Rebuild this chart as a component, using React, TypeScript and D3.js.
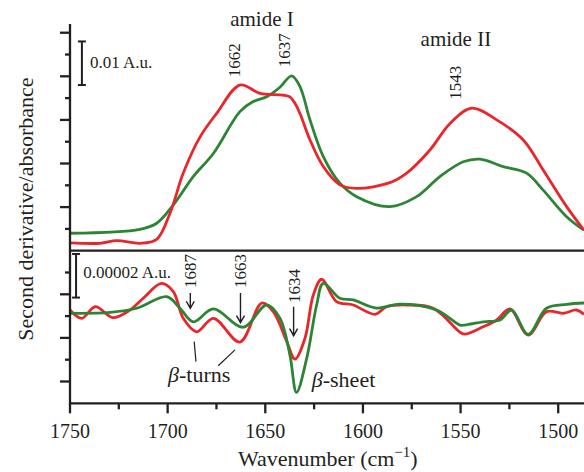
import React from "react";
import * as d3 from "d3";

// absorbance spectra (top panel), values in mA.u.
const absWave = [1750, 1734.6, 1726.1, 1714.2, 1705.6, 1698.8, 1692, 1683.4, 1674.9, 1663, 1652.7, 1641, 1637.4, 1634.8, 1632.2, 1627.1, 1620.3, 1611.8, 1603.2, 1586.2, 1577.6, 1565.7, 1555.4, 1544.3, 1531.5, 1517.9, 1507.7, 1495.7, 1486.8];
const absRed = [1.8, 1.7, 2.3, 1.7, 2.6, 8.6, 17.8, 26.1, 31.5, 38.0, 36.1, 35.7, 35.3, 33.8, 31.4, 25.4, 19.3, 15.1, 14.3, 15.6, 17.8, 23.1, 29.2, 32.7, 30.0, 25.4, 18.5, 10.1, 4.7];

const absWaveG = [1750, 1714.2, 1705.6, 1697.1, 1686.9, 1676.6, 1663, 1656.2, 1649.3, 1642.5, 1636.5, 1632.2, 1627.1, 1620.3, 1611.8, 1603.2, 1586.2, 1572.5, 1560.6, 1548.6, 1540.1, 1528.2, 1516.2, 1507.7, 1495.7, 1486.8];
const absGreen = [4.0, 4.9, 6.3, 10.5, 17.0, 22.3, 31.9, 34.2, 35.3, 37.5, 40.1, 37.6, 30.0, 21.6, 15.5, 12.4, 10.1, 12.4, 17.0, 20.4, 21.0, 19.3, 17.8, 13.9, 7.8, 4.7];

// second derivative (bottom panel), values in 1e-5 A.u. (offset)
const derWaveR = [1750, 1744, 1737, 1728, 1719.3, 1712.5, 1703.1, 1697.1, 1692, 1685.1, 1676.6, 1663, 1651.8, 1645.9, 1639, 1634.8, 1629.7, 1625.4, 1621.1, 1613.5, 1605, 1593.8, 1587.9, 1577.6, 1564, 1550.3, 1547.8, 1538.4, 1531.5, 1524.7, 1515.4, 1506, 1497.4, 1490.6, 1486.8];
const derRed = [4.28, 3.9, 4.43, 3.93, 4.28, 4.82, 5.5, 5.12, 3.9, 3.28, 3.9, 2.81, 4.6, 4.2, 2.83, 2.03, 2.98, 4.97, 5.69, 4.66, 4.51, 4.08, 4.43, 4.51, 4.36, 3.26, 3.17, 3.51, 3.82, 4.33, 3.13, 4.2, 4.13, 4.28, 4.08];

const derWaveG = [1750, 1729.5, 1715.8, 1700.5, 1693.7, 1686.9, 1676.6, 1661.3, 1649.3, 1642.5, 1637.4, 1634, 1628.8, 1623.7, 1620.3, 1611.8, 1605, 1593, 1581, 1562.3, 1550.3, 1547.8, 1538.4, 1529.8, 1523.9, 1515.4, 1506, 1495.7, 1486.8];
const derGreen = [4.13, 4.17, 4.36, 4.89, 4.36, 3.74, 4.33, 3.49, 4.51, 3.9, 2.22, 0.5, 2.06, 4.51, 5.5, 4.82, 4.74, 4.37, 4.55, 4.28, 3.59, 3.59, 3.74, 3.82, 4.28, 3.16, 4.36, 4.54, 4.6];

const xMajor = [1750, 1700, 1650, 1600, 1550, 1500];
const xMinor = [1725, 1675, 1625, 1575, 1525];
const topTicks = [5, 10, 15, 20, 25, 30, 35, 40, 45, 50];
const botTicks = [1, 2, 3, 4, 5, 6];

const peakLabels = [
  { text: "1662", at: 1666, v: 39.8 },
  { text: "1637", at: 1640.4, v: 42.1 },
  { text: "1543", at: 1552.9, v: 34.6 },
];
const arrows = [
  { text: "1687", at: 1688.4, from: 5.06, to: 4.36, label: 5.29 },
  { text: "1663", at: 1662.7, from: 5.06, to: 3.7, label: 5.29 },
  { text: "1634", at: 1635.5, from: 4.43, to: 3.1, label: 4.6 },
];

const RED = "#e8262b";
const GREEN = "#2b8535";
const INK = "#231f20";
const FONT = "'Liberation Serif', 'DejaVu Serif', serif";

const App = () => {
  const W = 584, H = 472;
  const x = d3.scaleLinear().domain([1750, 1486.8]).range([70, 584]);
  const yTop = d3.scaleLinear().domain([0, 52]).range([250.7, 24]);
  const yBot = d3.scaleLinear().domain([0, 7]).range([403.3, 250.7]);

  const lineTop = d3.line<[number, number]>()
    .x(d => x(d[0])).y(d => yTop(d[1]))
    .curve(d3.curveCatmullRom.alpha(0.5));
  const lineBot = d3.line<[number, number]>()
    .x(d => x(d[0])).y(d => yBot(d[1]))
    .curve(d3.curveCatmullRom.alpha(0.5));

  const zip = (a: number[], b: number[]) => a.map((w, i) => [w, b[i]] as [number, number]);

  const x0 = x(1750), x1 = x(1486.8);

  return (
    <svg width={W} height={H} style={{ position: "absolute", left: 0, top: 0 }} fontFamily={FONT}>
      {/* curves */}
      <path d={lineTop(zip(absWaveG, absGreen)) || ""} fill="none" stroke={GREEN} strokeWidth={2.8} />
      <path d={lineTop(zip(absWave, absRed)) || ""} fill="none" stroke={RED} strokeWidth={2.8} />
      <path d={lineBot(zip(derWaveR, derRed)) || ""} fill="none" stroke={RED} strokeWidth={2.8} />
      <path d={lineBot(zip(derWaveG, derGreen)) || ""} fill="none" stroke={GREEN} strokeWidth={2.8} />

      {/* axes */}
      <g stroke={INK} strokeWidth={2.3} fill="none">
        <line x1={x0} x2={x0} y1={yTop(52)} y2={yBot(0) + 1} />
        <line x1={x0} x2={x1} y1={yBot(7)} y2={yBot(7)} />
        <line x1={x0 - 1} x2={x1} y1={yBot(0)} y2={yBot(0)} />
        {topTicks.map(t => (
          <line key={"t" + t} x1={x0} x2={x0 - (t % 10 === 0 ? 10 : 5)} y1={yTop(t)} y2={yTop(t)} />
        ))}
        {botTicks.map(t => (
          <line key={"b" + t} x1={x0} x2={x0 - ((7 - t) % 2 === 0 ? 10 : 5)} y1={yBot(t)} y2={yBot(t)} />
        ))}
        {xMajor.map(t => (
          <line key={"M" + t} x1={x(t)} x2={x(t)} y1={yBot(0)} y2={yBot(0) + 10} />
        ))}
        {xMinor.map(t => (
          <line key={"m" + t} x1={x(t)} x2={x(t)} y1={yBot(0)} y2={yBot(0) + 6} />
        ))}
      </g>
      <g fill={INK} fontSize={20} textAnchor="middle">
        {xMajor.map(t => (
          <text key={"l" + t} x={x(t)} y={438}>{t}</text>
        ))}
      </g>

      {/* axis titles */}
      <text x={x(1618)} y={466} fontSize={22} fill={INK} textAnchor="middle">
        Wavenumber (cm<tspan dy={-9} fontSize={15}>−1</tspan><tspan dy={9}>)</tspan>
      </text>
      <text transform={`translate(25, 209) rotate(-90)`} dy="0.35em" fontSize={22} fill={INK} textAnchor="middle">
        Second derivative/absorbance
      </text>

      {/* scale bars */}
      <g stroke={INK} strokeWidth={2} fill="none">
        <line x1={x(1743.9)} x2={x(1743.9)} y1={yTop(48)} y2={yTop(38)} />
        <line x1={x(1743.9) - 4} x2={x(1743.9) + 4} y1={yTop(48)} y2={yTop(48)} />
        <line x1={x(1743.9) - 4} x2={x(1743.9) + 4} y1={yTop(38)} y2={yTop(38)} />
        <line x1={x(1746.9)} x2={x(1746.9)} y1={yBot(6.85)} y2={yBot(4.85)} />
        <line x1={x(1746.9) - 4} x2={x(1746.9) + 4} y1={yBot(6.85)} y2={yBot(6.85)} />
        <line x1={x(1746.9) - 4} x2={x(1746.9) + 4} y1={yBot(4.85)} y2={yBot(4.85)} />
      </g>
      <text x={x(1739.8)} y={yTop(43.3)} dy="0.35em" fontSize={17} fill={INK}>0.01 A.u.</text>
      <text x={x(1743.2)} y={yBot(6.0)} dy="0.35em" fontSize={17} fill={INK}>0.00002 A.u.</text>

      {/* band annotations */}
      <text x={x(1651.7)} y={yTop(51.5)} fontSize={21} fill={INK} textAnchor="middle">amide I</text>
      <text x={x(1552.4)} y={yTop(46.9)} fontSize={21} fill={INK} textAnchor="middle">amide II</text>
      {peakLabels.map(p => (
        <text key={p.text} transform={`translate(${x(p.at)}, ${yTop(p.v)}) rotate(-90)`} dy="0.35em" fontSize={17} fill={INK}>
          {p.text}
        </text>
      ))}
      {arrows.map(a => {
        const ax = x(a.at), y0 = yBot(a.from), y1 = yBot(a.to);
        return (
          <g key={a.text}>
            <text transform={`translate(${ax}, ${yBot(a.label)}) rotate(-90)`} dy="0.35em" fontSize={17} fill={INK}>
              {a.text}
            </text>
            <path d={`M${ax},${y0}L${ax},${y1}M${ax - 4},${y1 - 7}L${ax},${y1}L${ax + 4},${y1 - 7}`} stroke={INK} strokeWidth={1.4} fill="none" />
          </g>
        );
      })}
      <g stroke={INK} strokeWidth={1.2}>
        <line x1={x(1686.4)} x2={x(1685.5)} y1={yBot(2.83)} y2={yBot(1.91)} />
        <line x1={x(1665.5)} x2={x(1674.1)} y1={yBot(2.45)} y2={yBot(1.72)} />
      </g>
      <text x={x(1699.8)} y={yBot(0.99)} fontSize={22} fill={INK}>
        <tspan fontStyle="italic">β</tspan>-turns
      </text>
      <text x={x(1626.2)} y={yBot(0.76)} fontSize={22} fill={INK}>
        <tspan fontStyle="italic">β</tspan>-sheet
      </text>
    </svg>
  );
};

export default App;
